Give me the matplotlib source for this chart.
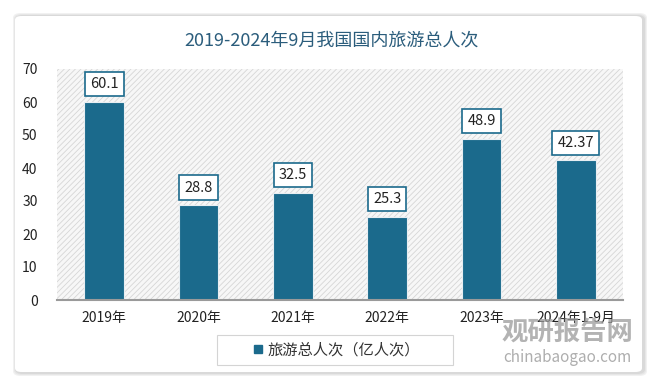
import matplotlib
matplotlib.use("Agg")
import matplotlib.pyplot as plt
from matplotlib.patches import FancyBboxPatch, Rectangle
from matplotlib.lines import Line2D

plt.rcParams['font.family'] = ['Noto Sans CJK SC', 'DejaVu Sans']
plt.rcParams['hatch.linewidth'] = 0.6
plt.rcParams['hatch.color'] = '#d6d6d6'

categories = ['2019年', '2020年', '2021年', '2022年', '2023年', '2024年1-9月']
values = [60.1, 28.8, 32.5, 25.3, 48.9, 42.37]
labels = ['60.1', '28.8', '32.5', '25.3', '48.9', '42.37']
series_name = '旅游总人次（亿人次）'
title = '2019-2024年9月我国国内旅游总人次'

W, H = 660, 392
fig = plt.figure(figsize=(W/100, H/100), dpi=100)
fig.patch.set_facecolor('white')

# card with soft shadow
for i, (pad, col) in enumerate([(6, '#f1f1f1'), (4, '#e6e6e6'), (2, '#d9d9d9')]):
    fig.patches.append(FancyBboxPatch(((15 - pad/2 + 1)/W, (H - 372 - pad/2 - 1)/H),
                                      (628 + pad)/W, (357 + pad)/H,
                                      boxstyle='round,pad=0,rounding_size=0.012',
                                      transform=fig.transFigure, facecolor=col,
                                      edgecolor='none', zorder=-10 + i))
fig.patches.append(FancyBboxPatch((15/W, (H - 372)/H), 627/W, 356/H,
                                  boxstyle='round,pad=0,rounding_size=0.01',
                                  transform=fig.transFigure, facecolor='white',
                                  edgecolor='none', zorder=-5))

ax = fig.add_axes([57/W, (H - 300)/H, (623 - 57)/W, (300 - 69)/H])
ax.set_zorder(2)
ax.set_facecolor('none')
ax.add_patch(Rectangle((0, 0), 1, 1, transform=ax.transAxes, facecolor='#f7f7f7',
                       edgecolor='#d6d6d6', linewidth=0, hatch='//////', zorder=0))

x = list(range(len(categories)))
bars = ax.bar(x, values, width=0.42, color='#1b6a8c', edgecolor='#e8eef2',
              linewidth=0.8, zorder=2)
ax.set_xlim(-0.5, len(categories) - 0.5)
ax.set_ylim(0, 70)
ax.set_yticks(range(0, 71, 10))
ax.set_xticks(x)
ax.set_xticklabels(categories)
ax.tick_params(axis='both', length=0, labelsize=10, colors='#222222')
ax.tick_params(axis='y', pad=14)
ax.tick_params(axis='x', pad=8)
for s in ['top', 'right', 'left']:
    ax.spines[s].set_visible(False)
ax.spines['bottom'].set_color('#9a9a9a')
ax.spines['bottom'].set_linewidth(1.5)
ax.spines['bottom'].set_zorder(3)

for xi, v, lab in zip(x, values, labels):
    ax.annotate(lab, (xi, v), xytext=(0, 12.5), textcoords='offset points',
                ha='center', va='center', fontsize=10.5, color='#222222', zorder=4,
                bbox=dict(boxstyle='square,pad=0.35', facecolor='white',
                          edgecolor='#1b6a8c', linewidth=1.2))

fig.text(332/W, 1 - 40/H, title, ha='center', va='center', fontsize=13,
         color='#2b5d7c')

# legend
fig.patches.append(Rectangle((217/W, (H - 365)/H), 236/W, 30/H, transform=fig.transFigure,
                             facecolor='white', edgecolor='#d4d4d4', linewidth=0.8, zorder=1))
handle = Line2D([], [], marker='s', color='none', markerfacecolor='#1b6a8c',
                markeredgecolor='#1b6a8c', markersize=6)
leg = fig.legend([handle], [series_name], loc='center', bbox_to_anchor=(335/W, 1 - 350/H),
                 frameon=False, fontsize=11, handletextpad=0.1, handlelength=1.0,
                 labelcolor='#333333')
leg.set_zorder(3)

# watermark
fig.text(567/W, 1 - 333/H, '观研报告网', ha='center', va='center', fontsize=19,
         fontweight='bold', color='#9a9a9a', alpha=0.75, zorder=6)
fig.text(567/W, 1 - 357/H, 'chinabaogao.com', ha='center', va='center', fontsize=11,
         color='#9a9a9a', alpha=0.8, zorder=6)

fig.savefig('out.png', dpi=100, facecolor='white')
